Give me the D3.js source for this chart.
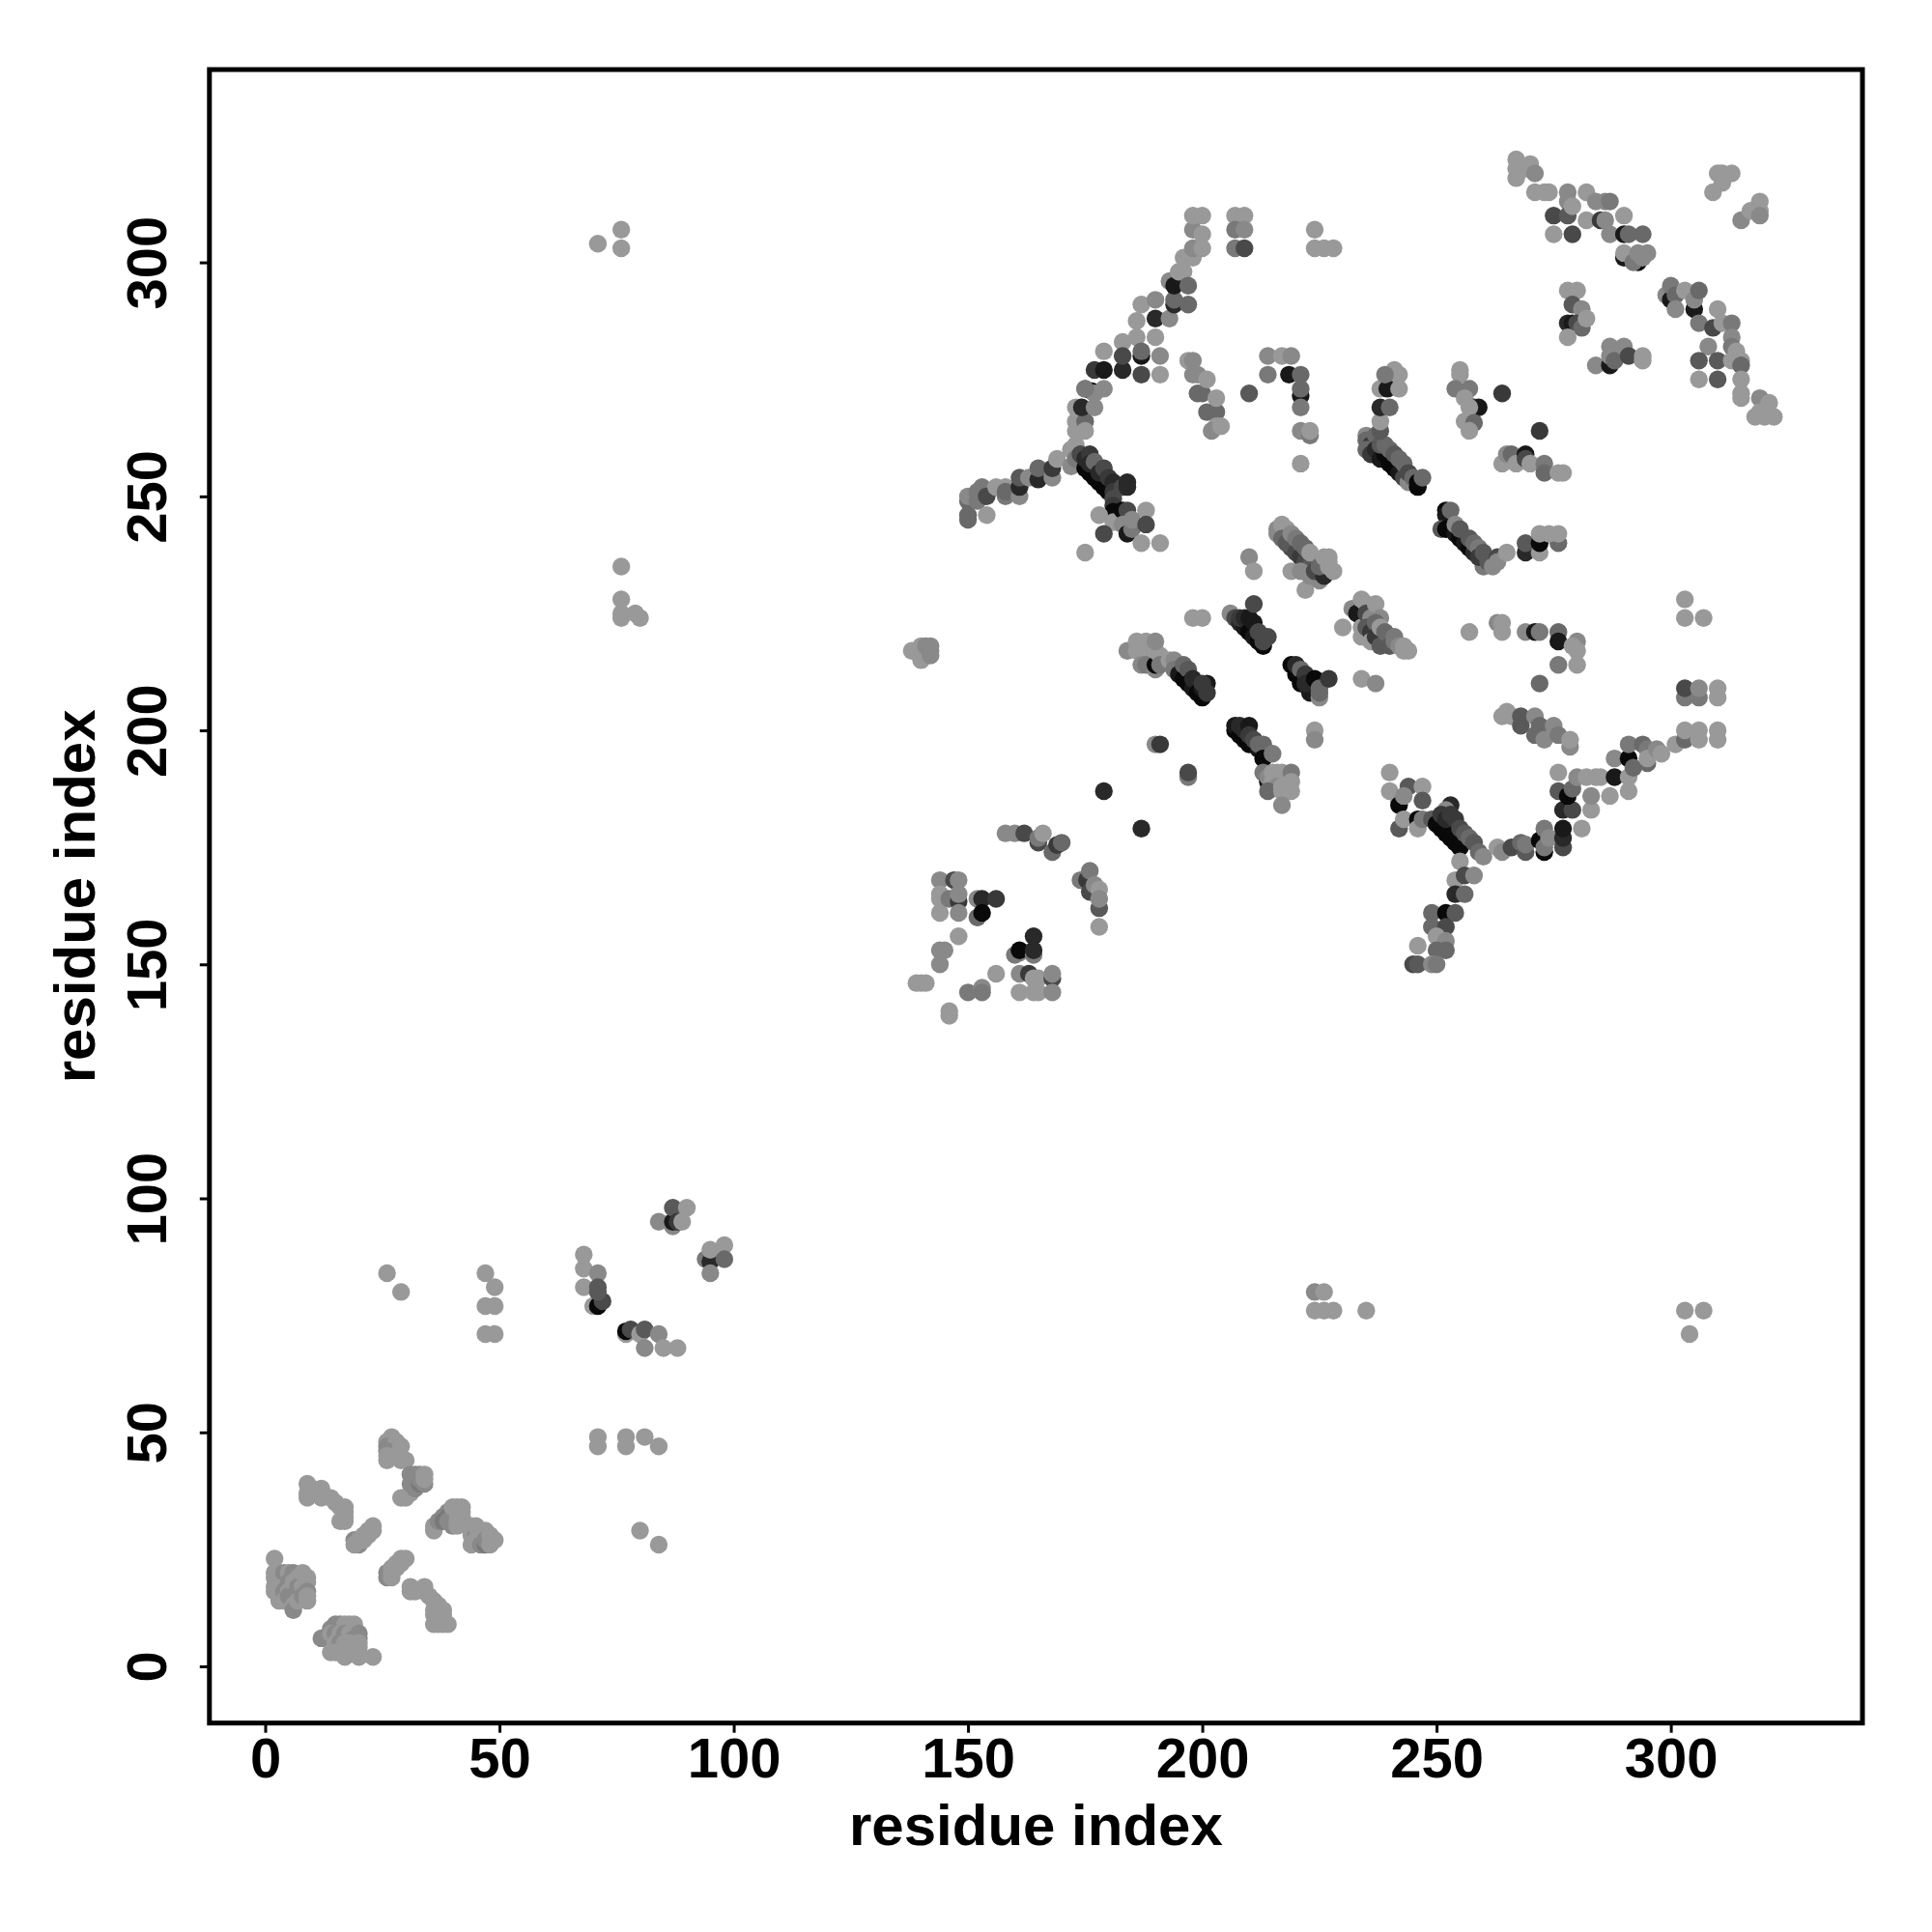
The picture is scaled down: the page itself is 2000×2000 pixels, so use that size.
<!DOCTYPE html>
<html><head><meta charset="utf-8">
<script src="https://cdn.jsdelivr.net/npm/d3@7/dist/d3.min.js"></script>
<style>html,body{margin:0;background:#fff}text{font-family:"Liberation Sans",Arial,sans-serif;font-weight:700;fill:#000}</style>
</head><body><div id="c"></div>
<script>
// each contact: [residue i, residue j, contact strength level 0 (weak) .. 9 (strong)]
const lowLeft1=[[2,23,0],[2,20,0],[2,19,0],[2,17,0],[2,16,0],[3,18,0],[3,15,0],[3,14,0],[4,20,1],[4,17,0],[4,16,1],[4,14,0],[5,20,0],[5,18,1],[5,16,0],[5,15,1],[6,20,1],[6,18,0],[6,15,1],[6,13,0],[6,12,1],[7,19,0],[7,17,1],[7,14,0],[8,20,0],[8,17,0],[8,15,1],[9,19,0],[9,18,0],[9,16,1],[9,15,0],[9,14,0]];
const lowLeft2=[[12,6,1],[13,6,1],[14,8,1],[15,9,1],[16,9,1],[17,9,0],[18,9,0],[19,9,0],[14,7,0],[15,7,1],[16,7,0],[17,7,1],[18,7,0],[19,6,1],[20,7,1],[20,6,1],[20,5,0],[15,5,0],[16,5,1],[17,5,0],[18,5,0],[19,4,0],[20,4,0],[14,3,0],[15,3,0],[17,2,0],[18,3,0],[20,2,0],[23,2,0],[17,4,0],[19,3,0]];
const lowLeft3=[[9,39,0],[9,37,0],[9,36,0],[10,38,0],[11,37,0],[12,38,0],[12,37,0],[12,36,0],[14,36,0],[15,35,0],[16,34,0],[17,34,0],[17,33,0],[17,32,0],[16,31,0],[17,31,0]];
const lowLeft4=[[19,27,1],[20,26,1],[19,26,0],[20,27,0],[21,27,0],[21,28,0],[22,29,0],[23,30,0],[23,29,0],[22,28,0]];
const lowLeft5=[[27,49,0],[26,48,0],[26,47,1],[28,48,0],[26,46,1],[26,45,0],[26,44,0],[28,45,0],[29,47,0],[29,44,0],[30,44,0],[29,36,0],[30,36,0],[31,37,0],[31,39,1],[32,38,1],[31,41,1],[32,40,1],[32,41,1],[33,39,2],[33,41,1],[33,40,1],[34,39,1],[34,40,0],[34,41,0]];
const lowLeft6=[[36,29,0],[36,30,0],[37,31,1],[38,32,1],[39,33,1],[38,31,2],[39,32,2],[40,32,1],[40,30,1],[39,31,1],[40,34,0],[41,34,0],[42,34,0],[41,33,0],[42,33,0],[41,31,0],[42,32,0],[41,30,0],[44,26,0],[44,28,0],[44,30,0],[45,28,1],[45,27,0],[45,30,0],[46,26,1],[47,26,2],[46,29,0],[47,29,0],[47,27,1],[48,26,0],[48,28,0],[49,27,0]];
const lowLeft7=[[26,19,1],[26,20,1],[27,20,0],[27,19,0],[28,21,0],[28,22,0],[29,22,0],[29,23,0],[30,23,0],[27,21,0]];
const lowLeft8=[[31,17,0],[31,16,0],[32,16,0],[34,17,0],[34,16,0],[35,15,0],[36,14,0],[37,13,0],[36,12,0],[37,12,0],[38,12,0],[36,11,0],[37,11,0],[36,9,0],[37,9,0],[38,9,0],[39,9,0],[37,10,0],[38,11,0]];
const lowLeftSparse=[[26,84,0],[29,80,0],[47,84,0],[49,81,0],[47,77,0],[49,77,0],[47,71,0],[49,71,0],[71,49,0],[71,47,0],[77,49,0],[77,47,0],[81,49,0],[84,47,0],[80,29,0],[84,26,0]];
const midLow=[[68,88,0],[68,85,0],[71,84,1],[68,81,0],[70,77,0],[71,77,9],[71,81,4],[72,78,5],[71,80,4],[77,71,0],[77,71.6,9],[78,72,5],[80,71,0],[81,72,4],[84,71,1],[81,68,1],[85,68,0],[88,68,0],[84,95,1],[87,94,1],[87,95,8],[87,98,4],[88,95,6],[89,95,0],[90,98,0],[94,87,2],[95,86.5,7],[95,84,1],[95,89,0],[98,90,0],[98,87,3]];
const farSparse=[[71,304,0],[76,307,0],[76,303,0],[76,235,0],[76,228,0],[76,225,0],[76,224,0],[79,225,0],[80,224,0],[224,80,1],[226,80,0],[224,76,0],[226,76,0],[228,76,0],[235,76,0],[303,76,0],[307,76,0],[304,71,0],[224,307,0],[224,303,0],[226,303,0],[228,303,0],[303,228,0],[303,224,0],[307,224,0]];
const block140=[[139,217,0],[138,217,0],[140,215,0],[140,218,0],[141,218,1],[142,218,1],[142,217,1],[142,216,1],[139,146,0],[140,146,0],[141,146,0],[146,140,0],[146,139,0],[150,144,2],[153,145,1],[153,144,2],[156,148,0],[144,153,1],[145,153,1],[144,150,1],[148,156,0]];
const block144=[[144,168,1],[144,165,0],[144,164,0],[144,161,0],[147,168,5],[148,168,1],[146,164,2],[148,163.5,6],[148,165,1],[148,161,1],[152,164,1],[153,164,7],[156,164,6],[152,160,3],[153,161,9],[161,152.5,1],[160,152,2],[161,153,9],[164,152,2],[164,153,7],[164,156,7],[161,148,1],[161,144,0],[163,148,6],[164,147,0],[165,147,0],[164,144,0],[165,144,0],[168,147,5],[168,148,1],[168,144,1]];
const block158=[[158,178,1],[160,178,1],[162,178,5],[165,176,5],[165,177,2],[166,178,0],[168,174,3],[169,175.5,6],[170,176,3],[174,168,2],[175.4,168,6],[176,170,2],[176,165.5,5],[177,167,1],[178,166,0],[178,162,4],[178,164,1],[178,158,0]];
const spokes=[[179,187,7],[187,179,7],[190,197,1],[191,197,6],[197,190,2],[197,191,5],[198,224,0],[200,224,0],[224,200,0],[224,198,1],[210,237,1],[211,234,0],[222,230,0],[230,222,0],[234,211,0],[237,210,1],[257,221,0],[272,210,3]];
const sheetA=[[184,217,1],[186,219,0],[187,218,0],[188,219,0],[186,217,0],[188,216,0],[187,214,1],[188,214,2],[190,213,1],[190,214,9],[190,217,0],[191,216,0],[191,214,2],[190,219,1],[193,215,0],[194,215,1],[194,213,2],[195,212,8],[196,211,9],[196,214,3],[197,213,4],[197,210,9],[198,209,8],[198,211,7],[199,208,9],[200,207,9],[200,209,8],[201,210,8],[200,210,6],[201,208,6]];
const sheetB=[[207,200,9],[207,201,8],[208,199,9],[208,201,7],[209,198,9],[210,197,9],[209,200,7],[210,201,8],[210,199,6],[211,198,5],[212,196,8],[212,197,3],[213,197,3],[214,195,3],[213,194,9],[215,195,2],[213,191,2],[214,189,9],[214,190,1],[215,191,0],[216,191,0],[215,189,0],[217,191,0],[216,188,1],[219,191,2],[214,187,3],[217,188,0],[217,187,0],[219,189,0],[219,187,0],[217,184,1]];
const sheetC=[[206,225,1],[207,224,5],[208,223,7],[209,222,8],[208,224,6],[209,224,7],[210,221,9],[210,224,8],[211,220,8],[211,223,8],[212,219,9],[211,227,5],[213,218,9],[212,221,5],[214,220,5],[213,219,5]];
const sheetD=[[219,214,9],[220,212,9],[220,214,7],[221,213,3],[221,210,9],[222,212,6],[223,208,8],[222,210,7],[224,211,9],[225,207,1],[225,209,3],[225,208,3],[227,211,6]];
const arc216=[[216,243,1],[216,242,1],[217,244,0],[218,243,0],[217,241,3],[219,239,5],[218,240,4],[219,242,1],[220,238,5],[220,241,2],[221,237,6],[221,240,3],[219,234,0],[222,236,5],[222,239,3],[223,235,4],[221,234,1],[223,238,0],[223,233,1],[225,232,1],[224,234,5],[226,233,7],[225,235,3],[226,237,0],[227,237,0],[227,236,0],[227,235,0],[228,234,0]];
const arc232=[[232,226,1],[233,225,8],[234,228,0],[234,222,0],[235,227,0],[235,225,5],[234,220,0],[236,224,1],[237,227,0],[235,222,4],[236,221,6],[238,224,1],[236,219,0],[237,223,3],[237,220,6],[238,222,0],[238,218,4],[239,221,3],[240,220,3],[240,218,4],[241,220,2],[241,219,2],[242,218,1],[243,218,0],[243,217,0],[244,217,0]];
const forkUpper=[[150,245,3],[150,246,3],[150,249,3],[150,250,1],[152,249,2],[152,251,2],[153,252,2],[154,246,0],[154,250,5],[156,252,0],[158,252,0],[158,250,2],[158,251,3],[161,250,1],[161,252,7],[161,254,4],[163,254,1],[165,253.6,7],[165,256,3],[168,254,1],[168,256,6],[169,258,0],[172,260,0],[172,256.4,1],[174,269,1],[173,266,0],[173,264,0],[173,261,0],[175,266,3],[175,264,0],[172,260,0],[173,258,2]];
const forkDiag=[[175,256,9],[176,255,9],[177,254,9],[178,253,9],[179,252,9],[180,251,9],[174,259,5],[175,258,7],[176,259,6],[176,257,7],[177,257.4,3],[178,255,7],[179,256,5],[180,254,6],[181,253,7],[181,251,6],[183,252,5],[184,253,7],[184,252,7]];
const forkBelow=[[181,249.5,5],[181,248,6],[181,246.7,9],[178,246,0],[181,244.5,0],[179,242,5],[175,238,0],[183,247,9],[184,247,5],[188,247,0],[183,244,1],[184,242,8],[185,243,2],[185,245,1],[188,244,5],[187,240,0],[191,240,0]];
const armTop=[[177,277,6],[179,277,8],[175,273,3],[176.4,272.5,9],[177,272,1],[179,273,1],[173,269,0],[174.3,269,7],[177,269,1],[175,273,2],[179,281,0],[183,277,7],[183,283,0],[183,280,5],[186,284,0],[187,276,5],[187,280,8],[187,281,3],[186,287.5,0],[187,291,0],[190,292,1],[190,288,7],[190,284,0],[191,280,1],[191,276,0],[193,288,1],[194,291,7],[194,292,3],[193,296,1],[194,295,8],[195,298,0],[196,298,0],[197,295,3],[197,291,3],[196,301,0],[198,301,0],[198,303,1],[198,307,1],[198,310,0],[200,310,0],[200,306,0],[200,303,0],[207,310,0],[209,310,0],[207,307,2],[209,307,1],[207,303,2],[209,303,5]];
const block197=[[197,279,0],[198,279,1],[198,276,1],[199,272,3],[199,276,1],[200,272,3],[201,275,0],[201,268,3],[203,268,3],[203,271,0],[203,265,0],[202,264,1],[204,265,0],[210,272,4]];
const block214=[[214,280,1],[217,280,0],[219,280,1],[214,276,2],[218.5,276,8],[221,276,3],[221,271.5,8],[221,273,3],[221,269,2],[221,264,1],[223,263,2],[223,264,0],[221,257,0]];
const arc235=[[235,263,1],[235,262,3],[236,261,6],[235,260,3],[236,259,6],[237,263,3],[237,260,7],[238,258,8],[239,259,9],[240,257,9],[241,256,9],[238,261,4],[239,261,3],[240,260,3],[241,259,4],[242,255,8],[243,254,5],[242,258,3],[243,257,3],[244,253,1],[244,255,5],[245,254,3],[246,252,9],[246,253,9],[247,254,3],[238,264,4],[238,266,0],[238,269,7],[240,269,3],[240,276,1],[238,273,0],[239.5,273,8],[242,273,0],[242,276,0],[241,277,0],[239,276,2]];
const arc252=[[252,247,9],[252,246,8],[251,243,4],[252,243,9],[254,242,8],[255,241,9],[256,240,8],[257,239,9],[258,238,7],[253,247,3],[254,244,1],[255,243,4],[257,241,4],[258,240,3],[259,239,2],[260,235,2],[259,237,6],[260,238,4],[261,236,4],[262,235,1],[263,237,5],[263,236,1],[265,238,0],[269,238,7],[269,240,4],[272,238,0],[272,240,9],[272,242,0],[276,240,3],[274,242,0],[276,242,0]];
const arc255=[[255,277,0],[255,276,0],[254,273,2],[257,273,2],[256,271,0],[258,269,5],[259,269,8],[257,269,0],[256,266,0],[258,265.7,3],[257,264,0],[264,272,6],[272,264,6],[264,257,0],[265,259,1],[266,259,3],[267,257,0],[269,259,8],[269,258,5],[270,257,0],[273,257,2],[273,255,3],[276,255,0],[277,255,0]];
const block263=[[263,223,1],[264,223,0],[264,221,0],[269,221,1],[271,221,8],[272,221,2],[276,221,3],[276,219,8],[280,219,1],[280,217,0],[276,214,2],[280,214,0],[279,218,0]];
const forkLow1=[[240,191,0],[240,187,0],[244,188,4],[242,185,0],[242,184,9],[243,186,1],[247,188,0],[247,185,4],[242,179,4],[243,181,0],[246,181,9],[246,179,0],[247,181,2],[249,181,4]];
const forkLowDiag=[[250,180,9],[251,179,9],[252,178,9],[253,177,9],[254,176,9],[255,175,9],[253,184,7],[252,183,1],[251,182,6],[252,181,7],[253,182,6],[254,181,6],[255,179,5],[256,178,4],[257,177,3],[258,176,4],[259,174,3],[260,173,1]];
const stem=[[255,172,0],[254,168,0],[256,169,5],[258,169,1],[254,165,7],[256,165,3],[249,161,3],[252,161,9],[254,161,4],[249,158,3],[252,158,5],[250,156,0],[252,155,1],[246,154,0],[250,153,3],[252,153,3],[245,150,5],[246,150,4],[249,150,1],[250,150,2]];
const armLow=[[263,175,0],[264,174,1],[266,175,5],[268,176,3],[269,174,4],[269,175.6,2],[273,174,9],[272,176.5,9],[273,175,2],[273,179,2],[274,177,1],[277,175,5],[277,177,7],[277,179,8],[277,183,7],[276,187,4],[276,191,0],[279,183,5],[278,186,9],[279,187.5,3],[280,190,1],[281,179,0],[283,183,0],[282,190,0],[283,186,1],[284,190,0],[285,190,0],[287,186,0],[288,190,8],[288,194,1],[291,187,0],[291,190,0],[291,194,9],[291,197,2],[292,192,3],[294,197,3],[295,193,3],[295,196,2],[295,194,0],[297,196,1],[298,195,0],[301,197,0],[303,198,3],[303,200,0],[306,198,0],[306,200,0],[310,198,0],[310,200,0]];
const strand264=[[264,203,0],[265,204,0],[266,203,0],[268,203,4],[268,201,4],[271,203,1],[271,199,3],[272,201,3],[275,201,1],[273,198,1],[276,199,2],[278.5,196.5,1],[278.5,198,0]];
const col303=[[303,207,2],[303,209,5],[306,207,2],[306,209,1],[310,207,0],[310,209,0]];
const topRight1=[[267,322,0],[267,320,0],[267,318,0],[269,320,0],[270,321,0],[271,319,1],[271,315,0],[273,315,0],[274,315,0],[275,310,5],[275,306,0],[278,315,1],[278,313,1],[278,310,4],[279,306,5],[279,312,0],[282,315,0],[282,309,0],[284,313,1],[286,313,1],[287,313,2],[285,309,6],[286,309,1],[287,306,1],[290,306,8],[290,310,0],[290,301,8],[290,302,0],[291,306,3],[294,306,3],[293,300,9],[292,300,2],[293,302,1],[294,301,1],[295,302,1]];
const topRight2=[[299,293,1],[300,292,8],[300,295,2],[301,293,3],[301,290,1],[303,294,0],[305,290,8],[305,292,1],[306,294,3],[306,287,2],[308,282,1],[309,286,5],[310,290,0],[311,287,0],[313,287,2],[313,284,1],[313,282,2],[306,279,4],[310,279,4],[306,275,0],[310,275,4],[314,281,0],[313,279,0],[315,279,0],[315,278,3],[315,275,0],[315,272,0],[315,271,0],[318,267,0],[319,271,1],[319,268,0],[321,270,0],[320,267,0],[322,267,0]];
const topRight3=[[278,294,0],[280,294,0],[279,291,4],[281,290,1],[278,287,7],[279,287,8],[280,287,5],[281,286,3],[282,288,0],[278,284,0],[284,278,1],[287,282,1],[287,278,8],[287,280,1],[288,279,3],[290,282,1],[291,280,5],[294,280,0],[294,279,0]];
const topRight4=[[309,315,0],[310,319,0],[311,319,0],[313,319,0],[311,317,0],[315,309,1],[317,311,0],[319,313,0],[319,311,0],[319,310,1]];
const allContacts=[lowLeft1,lowLeft2,lowLeft3,lowLeft4,lowLeft5,lowLeft6,lowLeft7,lowLeft8,lowLeftSparse,midLow,farSparse,block140,block144,block158,spokes,sheetA,sheetB,sheetC,sheetD,arc216,arc232,forkUpper,forkDiag,forkBelow,armTop,block197,block214,arc235,arc252,arc255,block263,forkLow1,forkLowDiag,stem,armLow,strand264,col303,topRight1,topRight2,topRight3,topRight4];
const xTickValues=[0,50,100,150,200,250,300];
const yTickValues=[0,50,100,150,200,250,300];
const xTitle="residue index", yTitle="residue index";

const W=2000,H=2000,fL=216.8,fR=1928,fT=72,fB=1783.7;
const svg=d3.select("#c").append("svg").attr("width",W).attr("height",H).style("display","block");
const x=d3.scaleLinear().domain([-11.9,340.9]).range([fL,fR]);
const y=d3.scaleLinear().domain([-12.12,341.2]).range([fB,fT]);
const gray=d3.scaleLinear().domain([0,9]).range([153,9]);

svg.append("g").selectAll("circle").data(allContacts.flat()).join("circle")
 .attr("cx",d=>x(d[0])).attr("cy",d=>y(d[1])).attr("r",9.2)
 .attr("fill",d=>{const g=Math.round(gray(d[2]));return `rgb(${g},${g},${g})`;});

svg.append("rect").attr("x",fL).attr("y",fT).attr("width",fR-fL).attr("height",fB-fT)
 .attr("fill","none").attr("stroke","#000").attr("stroke-width",5);

const gx=svg.append("g").attr("transform",`translate(0,${fB})`)
 .call(d3.axisBottom(x).tickValues(xTickValues).tickSize(10).tickPadding(4));
const gy=svg.append("g").attr("transform",`translate(${fL},0)`)
 .call(d3.axisLeft(y).tickValues(yTickValues).tickSize(10).tickPadding(4));
[gx,gy].forEach(g=>{g.select(".domain").remove();
 g.selectAll("line").attr("stroke","#000").attr("stroke-width",3);
 g.selectAll("text").style("font-size","58px").attr("fill","#000");});
gx.selectAll("text").attr("dy",null).attr("text-anchor","middle").attr("y",1840-fB);
gy.selectAll("text").attr("x",null).attr("dy",null).attr("text-anchor","middle")
 .attr("transform",`translate(${172-fL},0) rotate(-90)`);
svg.append("text").attr("x",(fL+fR)/2).attr("y",1910).attr("text-anchor","middle").style("font-size","60px").text(xTitle);
svg.append("text").attr("transform",`translate(98,${(fT+fB)/2}) rotate(-90)`).attr("text-anchor","middle").style("font-size","60px").text(yTitle);
</script></body></html>
